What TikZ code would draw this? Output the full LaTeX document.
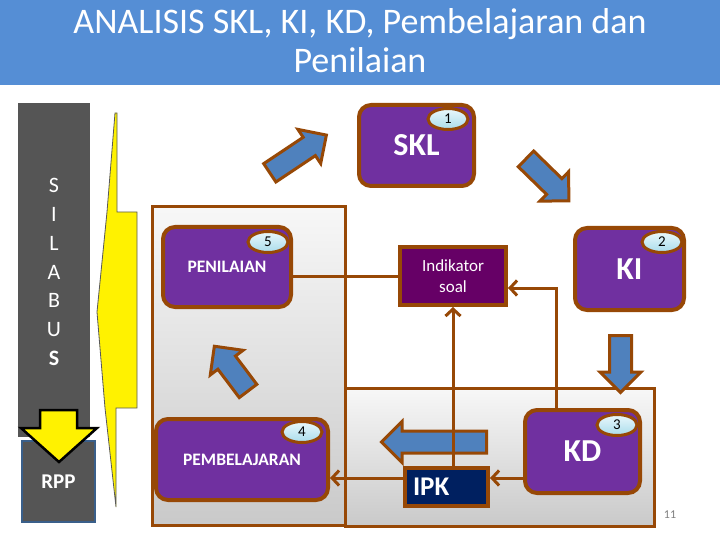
\documentclass[tikz,border=0pt]{standalone}
\usepackage{fontspec}
\setmainfont{Carlito}
\usetikzlibrary{shapes.geometric,shapes.arrows,arrows.meta}
\definecolor{titleblue}{HTML}{558ED5}
\definecolor{brn}{HTML}{974806}
\definecolor{purp}{HTML}{7030A0}
\definecolor{darkpurp}{HTML}{660066}
\definecolor{navy}{HTML}{002060}
\definecolor{arrblue}{HTML}{4F81BD}
\definecolor{sgrey}{HTML}{555555}
\definecolor{rppedge}{HTML}{3A5F8A}
\definecolor{ellA}{HTML}{EAF8FC}
\definecolor{ellB}{HTML}{A9DCEB}
\begin{document}
\begin{tikzpicture}[x=1pt,y=-1pt,
  panel/.style={draw=brn,line width=3pt,top color=gray!6,bottom color=gray!42},
  pbox/.style={draw=brn,line width=4pt,fill=purp,rounded corners=12pt,text=white,inner sep=0pt},
  numell/.style={ellipse,draw=brn,line width=3pt,top color=ellA,bottom color=ellB,minimum width=40pt,minimum height=21pt,inner sep=0pt,font=\fontsize{15}{15}\selectfont},
  conn/.style={draw=brn,line width=3pt},
  connarr/.style={conn,-{Straight Barb[length=7pt,width=15pt]}},
  blockarrow/.style={single arrow,draw=brn,line width=3pt,fill=arrblue,inner xsep=0pt,inner ysep=9.5pt,single arrow head extend=9.5pt,single arrow tip angle=90,single arrow head indent=0pt}
]
\useasboundingbox (0,0) rectangle (720,540);
\fill[white] (0,0) rectangle (720,540);
% title
\fill[titleblue] (0,0) rectangle (720,85);
\node[font=\fontsize{36}{39}\selectfont,text=white,align=center] (title) at (360,41) {ANALISIS SKL, KI, KD, Pembelajaran dan\\Penilaian};
% silabus bar
\fill[sgrey] (18,103) rectangle (90,437);
\node[text=white,align=center,font=\fontsize{22}{28.8}\selectfont] (silabus) at (54,272) {S\\I\\L\\A\\B\\U\\\textbf{S}};
\node[draw=rppedge,line width=2pt,fill=sgrey,minimum width=73pt,minimum height=81pt,text=white,font=\fontsize{21}{21}\selectfont\bfseries] (rpp) at (58.5,481.5) {RPP};
% yellow down arrow
\filldraw[fill=yellow,draw=black,line width=2.5pt,line join=miter] (40,410) -- (77,410) -- (77,428) -- (97,428) -- (59,462) -- (21,428) -- (40,428) -- cycle;
% yellow brace
\filldraw[fill=yellow,draw=gray!70!black,line width=0.8pt] (117,113) -- (117,212) -- (137,212) -- (137,408) -- (116,408) -- (116,507) -- (105,408) -- (97,312) -- (107,212) -- (115,113) -- cycle;
% panels
\filldraw[panel] (152,207) rectangle (345,525);
\filldraw[panel] (345,388) rectangle (654,526);
% block arrows
\node[blockarrow,minimum height=68pt,rotate=33.7] (a1) at (293.5,157) {};
\node[blockarrow,minimum height=60pt,rotate=-44.3] (a2) at (543.5,176) {};
\node[blockarrow,minimum height=57pt,rotate=-90] (a3) at (620.5,358.5) {};
\node[blockarrow,minimum height=105pt,rotate=180] (a4) at (439.5,442) {};
\node[blockarrow,minimum height=56pt,rotate=127] (a5) at (234.5,373) {};
% boxes
\node[pbox,minimum width=115pt,minimum height=81pt,font=\fontsize{32}{32}\selectfont\bfseries] (skl) at (416.5,145.5) {SKL};
\node[pbox,minimum width=109pt,minimum height=82pt,font=\fontsize{32}{32}\selectfont\bfseries] (ki) at (629.5,269) {KI};
\node[pbox,minimum width=115pt,minimum height=83pt,font=\fontsize{32}{32}\selectfont\bfseries] (kd) at (582.5,451.5) {KD};
\node[pbox,minimum width=128pt,minimum height=80pt,font=\fontsize{17.5}{17.5}\selectfont\bfseries] (pen) at (227,267) {PENILAIAN};
\node[pbox,minimum width=172pt,minimum height=81pt,font=\fontsize{17.5}{17.5}\selectfont\bfseries] (pem) at (242,459.5) {PEMBELAJARAN};
\node[draw=brn,line width=4pt,fill=darkpurp,text=white,minimum width=106pt,minimum height=58pt,inner sep=0pt,align=center,font=\fontsize{17}{21}\selectfont] (ind) at (453,276) {Indikator\\soal};
\node[draw=brn,line width=4pt,fill=navy,text=white,minimum width=83pt,minimum height=38pt,inner xsep=8pt,inner ysep=0pt,text width=67pt,align=left,font=\fontsize{27}{27}\selectfont\bfseries] (ipk) at (446.5,487) {IPK};
% number ellipses
\node[numell] (n1) at (448,119) {1};
\node[numell] (n2) at (662,242) {2};
\node[numell] (n3) at (617,425) {3};
\node[numell] (n4) at (302,432) {4};
\node[numell] (n5) at (268,242) {5};
% connectors
\draw[conn] (ind.west) -- (ind.west -| pen.east);
\coordinate (kdtop) at ([xshift=-26.5pt]kd.north);
\coordinate (indr) at ([yshift=-12pt]ind.east);
\draw[connarr] (kdtop) |- (indr);
\draw[connarr] (ipk.north -| ind.south) -- (ind.south);
\coordinate (ipkr) at ([yshift=9pt]ipk.east);
\coordinate (ipkl) at ([yshift=9pt]ipk.west);
\draw[connarr] (ipkr -| kd.west) -- (ipkr);
\draw[connarr] (ipkl) -- (ipkl -| pem.east);
% page number
\node[text=gray,font=\fontsize{12}{12}\selectfont] (pg) at (670,515) {11};
\end{tikzpicture}
\end{document}
